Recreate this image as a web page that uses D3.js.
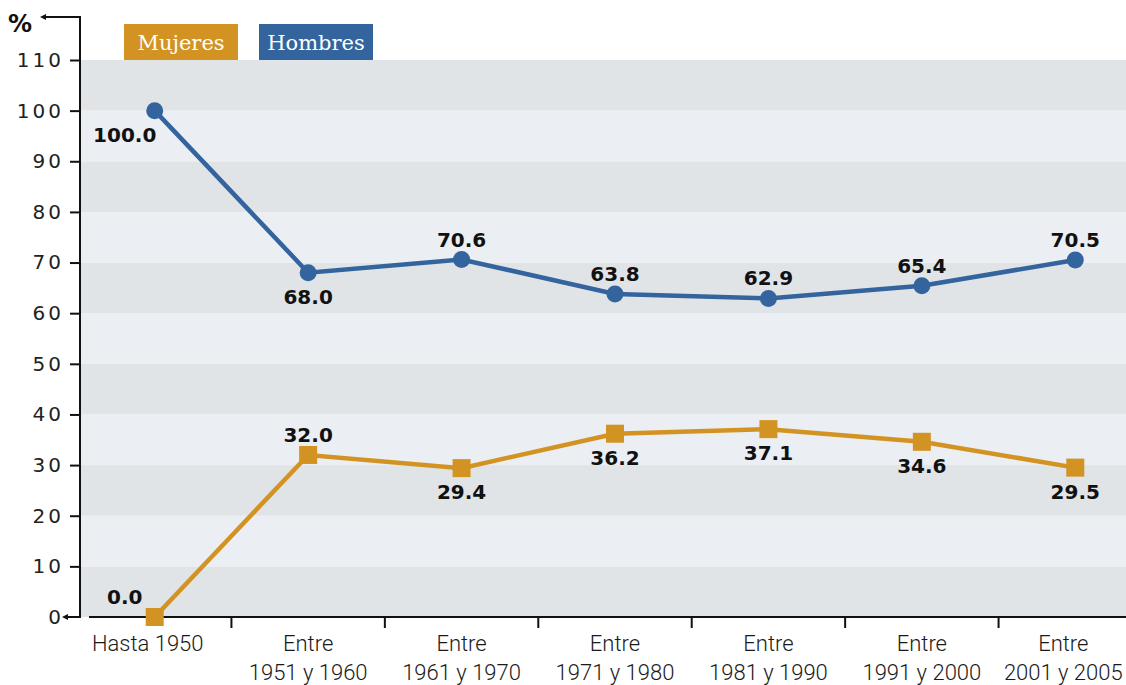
<!DOCTYPE html>
<html>
<head>
<meta charset="utf-8">
<script src="https://cdn.jsdelivr.net/npm/d3@7"></script>
<style>
  body { margin: 0; background: #fff; }
  svg { display: block; }
</style>
</head>
<body>
<div id="chart"></div>
<script>
// data
var categories = ["Hasta 1950", "Entre|1951 y 1960", "Entre|1961 y 1970", "Entre|1971 y 1980",
                  "Entre|1981 y 1990", "Entre|1991 y 2000", "Entre|2001 y 2005"];
var hombres = [100.0, 68.0, 70.6, 63.8, 62.9, 65.4, 70.5];
var mujeres = [0.0, 32.0, 29.4, 36.2, 37.1, 34.6, 29.5];
var yTicks = [0, 10, 20, 30, 40, 50, 60, 70, 80, 90, 100, 110];
// label placement: "a" above, "b" below, "al"/"bl" left of point
var hombresPos = ["bl", "b", "a", "a", "a", "a", "a"];
var mujeresPos = ["al", "a", "b", "b", "b", "b", "b"];

var W = 1126, H = 685;
var cMuj = "#d39323", cHom = "#33649d";

var svg = d3.select("#chart").append("svg").attr("width", W).attr("height", H);

var x = d3.scaleBand().domain(categories).range([78, 1152]).padding(0);
var y = d3.scaleLinear().domain([0, 110]).range([617, 60]);
var cx = function(i) { return x(categories[i]) + x.bandwidth() / 2; };

// background bands
var bands = d3.range(0, 110, 10);
svg.append("g").selectAll("rect").data(bands).join("rect")
  .attr("x", 81).attr("width", W - 81)
  .attr("y", function(d) { return y(d + 10); })
  .attr("height", function(d) { return y(d) - y(d + 10); })
  .attr("fill", function(d) { return (d / 10) % 2 === 0 ? "#e1e4e7" : "#ebeef2"; });

// y axis
var yAxis = d3.axisLeft(y).tickValues(yTicks).tickSize(10).tickPadding(8);
var gy = svg.append("g").attr("transform", "translate(80,0)").call(yAxis);
gy.select(".domain").remove();
gy.selectAll(".tick line").attr("stroke", "#111").attr("stroke-width", 2);
gy.selectAll(".tick").filter(function(d) { return d === 0; }).select("line").remove();
gy.selectAll(".tick text")
  .attr("font-family", "'DejaVu Sans', sans-serif").attr("font-size", 20)
  .attr("letter-spacing", 3).attr("fill", "#222")
  .attr("dx", 2);

svg.append("line").attr("x1", 80).attr("x2", 80).attr("y1", 17).attr("y2", 618)
  .attr("stroke", "#111").attr("stroke-width", 2);
svg.append("line").attr("x1", 44).attr("x2", 81).attr("y1", 17).attr("y2", 17)
  .attr("stroke", "#111").attr("stroke-width", 2);
svg.append("path").attr("d", "M40,17 L46,14 L46,20 Z").attr("fill", "#111");
svg.append("line").attr("x1", 66).attr("x2", 80).attr("y1", y(0)).attr("y2", y(0))
  .attr("stroke", "#111").attr("stroke-width", 2);
svg.append("path").attr("d", "M62," + y(0) + " L68," + (y(0) - 3) + " L68," + (y(0) + 3) + " Z").attr("fill", "#111");
svg.append("text").attr("x", 8).attr("y", 32).text("%")
  .attr("font-family", "'DejaVu Sans', sans-serif").attr("font-size", 24).attr("font-weight", "bold")
  .attr("letter-spacing", -1).attr("fill", "#111");

// x axis
svg.append("line").attr("x1", 89).attr("x2", W).attr("y1", y(0)).attr("y2", y(0))
  .attr("stroke", "#111").attr("stroke-width", 2);
svg.append("g").selectAll("line").data(categories.slice(1)).join("line")
  .attr("x1", function(d) { return x(d); }).attr("x2", function(d) { return x(d); })
  .attr("y1", y(0)).attr("y2", y(0) + 11)
  .attr("stroke", "#111").attr("stroke-width", 2);
var xShift = [-7, 0, 0, 0, 0, 0, -12];
var xl = svg.append("g").selectAll("text").data(categories).join("text")
  .attr("text-anchor", "middle")
  .attr("font-family", "'Liberation Sans Narrow', 'Roboto', sans-serif").attr("font-size", 22)
  .attr("font-weight", 300).attr("fill", "#1a1a1a");
xl.each(function(d, i) {
  var parts = d.split("|");
  var t = d3.select(this);
  parts.forEach(function(p, k) {
    t.append("tspan").attr("x", cx(i) + xShift[i])
      .attr("y", parts.length === 1 ? 651 : 651 + k * 29).text(p);
  });
});

// lines
var line = d3.line().x(function(d, i) { return cx(i); }).y(function(d) { return y(d); });
svg.append("path").datum(hombres).attr("d", line).attr("fill", "none")
  .attr("stroke", cHom).attr("stroke-width", 4.5);
svg.append("path").datum(mujeres).attr("d", line).attr("fill", "none")
  .attr("stroke", cMuj).attr("stroke-width", 4.5);

svg.append("g").selectAll("circle").data(hombres).join("circle")
  .attr("cx", function(d, i) { return cx(i); }).attr("cy", function(d) { return y(d); })
  .attr("r", 8.5).attr("fill", cHom);
svg.append("g").selectAll("rect").data(mujeres).join("rect")
  .attr("x", function(d, i) { return cx(i) - 9; }).attr("y", function(d) { return y(d) - 9; })
  .attr("width", 18).attr("height", 18).attr("fill", cMuj);

// value labels
function labels(vals, pos) {
  svg.append("g").selectAll("text").data(vals).join("text")
    .attr("x", function(d, i) { return cx(i) - (pos[i].length > 1 ? 30 : 0); })
    .attr("y", function(d, i) { return y(d) + (pos[i][0] === "a" ? -13 : 31); })
    .attr("text-anchor", "middle")
    .attr("font-family", "'DejaVu Sans', sans-serif").attr("font-size", 20).attr("font-weight", "bold")
    .attr("fill", "#111")
    .text(function(d) { return d.toFixed(1); });
}
labels(hombres, hombresPos);
labels(mujeres, mujeresPos);

// legend
var legend = [{name: "Mujeres", color: cMuj, x: 124}, {name: "Hombres", color: cHom, x: 259}];
var lg = svg.append("g").selectAll("g").data(legend).join("g")
  .attr("transform", function(d) { return "translate(" + d.x + ",24)"; });
lg.append("rect").attr("width", 114).attr("height", 36).attr("fill", function(d) { return d.color; });
lg.append("text").attr("x", 57).attr("y", 26).attr("text-anchor", "middle")
  .attr("font-family", "'DejaVu Serif', serif").attr("font-size", 21).attr("fill", "#fff")
  .text(function(d) { return d.name; });
</script>
</body>
</html>
